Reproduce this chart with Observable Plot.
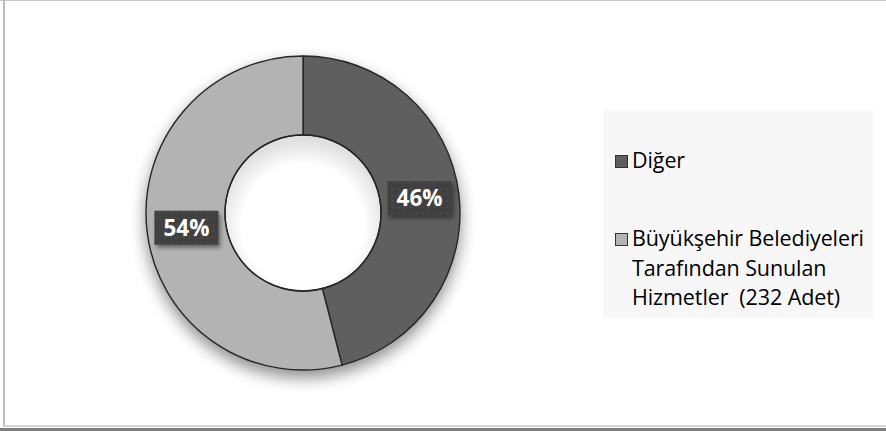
<!DOCTYPE html>
<html>
<head>
<meta charset="utf-8">
<script src="https://cdn.jsdelivr.net/npm/d3@7"></script>
<script src="https://cdn.jsdelivr.net/npm/@observablehq/plot@0.6"></script>
<style>
  html, body { margin: 0; padding: 0; background: #fff; }
  #wrap { position: relative; width: 886px; height: 431px; overflow: hidden; font-family: "Open Sans", Lato, sans-serif; }
  #chart { position: absolute; left: 0; top: 0; }
  .frame-top { position: absolute; left: 0; top: 0; width: 886px; height: 1px; background: #c6c6c6; }
  .frame-left { position: absolute; left: 3px; top: 0; width: 2px; height: 426px; background: #bdbdbd; }
  .frame-bot1 { position: absolute; left: 3px; top: 425px; width: 883px; height: 2px; background: #d4d4d4; }
  .frame-bot2 { position: absolute; left: 0; top: 428px; width: 886px; height: 3px; background: #7f7f7f; }
  #legend { position: absolute; left: 603px; top: 110px; width: 270px; height: 208px; background: #f7f7f7; }
  .item { position: absolute; left: 12px; display: flex; align-items: flex-start; font-size: 21.5px; line-height: 29.5px; color: #000; letter-spacing: -0.1px; }
  .sw { width: 11px; height: 11px; border: 1px solid #333; margin-top: 10px; margin-right: 4px; flex: none; }
</style>
</head>
<body>
<div id="wrap">
  <div id="chart"></div>
  <div id="legend"></div>
  <div class="frame-top"></div>
  <div class="frame-left"></div>
  <div class="frame-bot1"></div>
  <div class="frame-bot2"></div>
</div>
<script>
// ---- data ----
const categories = ["Diğer", "Büyükşehir Belediyeleri Tarafından Sunulan Hizmetler  (232 Adet)"];
const legendLines = [["Diğer"], ["Büyükşehir Belediyeleri", "Tarafından Sunulan", "Hizmetler  (232 Adet)"]];
const shares = [46, 54];
const percentLabels = ["46%", "54%"];
const colors = ["#5e5e5e", "#b3b3b3"];

const data = categories.map((c, i) => ({label: c, value: shares[i], text: percentLabels[i]}));

// layout
const W = 886, H = 431;
const CX = 303, CY = 213, R_OUT = 157, R_IN = 78;

function donut(rows, options) {
  return Plot.barX(rows, {
    ...options,
    render(index, scales, values, dimensions) {
      const g = d3.create("svg:g");
      const defs = g.append("defs");
      const sh = defs.append("filter").attr("id", "dshadow").attr("x", "-30%").attr("y", "-30%").attr("width", "160%").attr("height", "160%");
      sh.append("feGaussianBlur").attr("in", "SourceAlpha").attr("stdDeviation", 8).attr("result", "b");
      sh.append("feOffset").attr("in", "b").attr("dx", 0).attr("dy", 7).attr("result", "o");
      sh.append("feComponentTransfer").attr("in", "o").attr("result", "o2")
        .append("feFuncA").attr("type", "linear").attr("slope", 0.45);
      const m = sh.append("feMerge");
      m.append("feMergeNode").attr("in", "o2");
      m.append("feMergeNode").attr("in", "SourceGraphic");

      const lsh = defs.append("filter").attr("id", "lshadow").attr("x", "-30%").attr("y", "-30%").attr("width", "160%").attr("height", "180%");
      lsh.append("feGaussianBlur").attr("in", "SourceAlpha").attr("stdDeviation", 2).attr("result", "b");
      lsh.append("feOffset").attr("in", "b").attr("dx", 2).attr("dy", 3).attr("result", "o");
      lsh.append("feComponentTransfer").attr("in", "o").attr("result", "o2")
        .append("feFuncA").attr("type", "linear").attr("slope", 0.45);
      const m2 = lsh.append("feMerge");
      m2.append("feMergeNode").attr("in", "o2");
      m2.append("feMergeNode").attr("in", "SourceGraphic");

      const pat = defs.append("pattern").attr("id", "dots").attr("width", 6).attr("height", 6).attr("patternUnits", "userSpaceOnUse");
      pat.append("rect").attr("width", 6).attr("height", 6).attr("fill", "#3f3f3f");
      pat.append("rect").attr("x", 2).attr("y", 2).attr("width", 2).attr("height", 2).attr("fill", "#4d4d4d");

      const inner = defs.append("radialGradient").attr("id", "holeg").attr("cx", "50%").attr("cy", "58%").attr("r", "55%");
      inner.append("stop").attr("offset", "0.72").attr("stop-color", "#ffffff");
      inner.append("stop").attr("offset", "1").attr("stop-color", "#e0e0e0");

      const pie = d3.pie().sort(null).value(i => rows[i].value)(Array.from(index));
      const arc = d3.arc().innerRadius(R_IN).outerRadius(R_OUT);
      const root = g.append("g").attr("transform", `translate(${CX},${CY})`);
      const ring = root.append("g").attr("filter", "url(#dshadow)");
      ring.selectAll("path").data(pie).join("path")
        .attr("d", arc)
        .attr("fill", d => values.fill[d.data])
        .attr("stroke", "#262626")
        .attr("stroke-width", 1.4)
        .attr("stroke-linejoin", "round");
      root.append("circle").attr("r", R_IN - 0.8).attr("fill", "url(#holeg)");
      root.append("circle").attr("r", R_IN).attr("fill", "none").attr("stroke", "#262626").attr("stroke-width", 1.4);

      const lab = root.selectAll("g.lab").data(pie).join("g").attr("class", "lab")
        .attr("transform", d => { const [x, y] = arc.centroid(d); return `translate(${x},${y})`; });
      lab.append("rect").attr("x", -32).attr("y", -17).attr("width", 64).attr("height", 34)
        .attr("fill", "url(#dots)").attr("filter", "url(#lshadow)");
      lab.append("text").attr("text-anchor", "middle").attr("dy", "0.36em")
        .attr("fill", "#ffffff").attr("font-weight", "bold").attr("font-size", 22.5)
        .attr("font-family", "'Open Sans', Lato, sans-serif")
        .text(d => rows[d.data].text);
      return g.node();
    }
  });
}

const chart = Plot.plot({
  width: W,
  height: H,
  margin: 0,
  x: {axis: null},
  y: {axis: null},
  color: {domain: categories, range: colors},
  style: {background: "transparent", overflow: "visible"},
  marks: [donut(data, {x: "value", fill: "label"})]
});
document.getElementById("chart").appendChild(chart);

// legend built from the same color scale
const legend = document.getElementById("legend");
const tops = [35, 113];
categories.forEach((c, i) => {
  const item = document.createElement("div");
  item.className = "item";
  item.style.top = tops[i] + "px";
  const sw = document.createElement("div");
  sw.className = "sw";
  sw.style.background = chart.scale("color").apply(c);
  const txt = document.createElement("div");
  txt.style.whiteSpace = "pre";
  txt.textContent = legendLines[i].join("\n");
  item.appendChild(sw);
  item.appendChild(txt);
  legend.appendChild(item);
});
</script>
</body>
</html>
